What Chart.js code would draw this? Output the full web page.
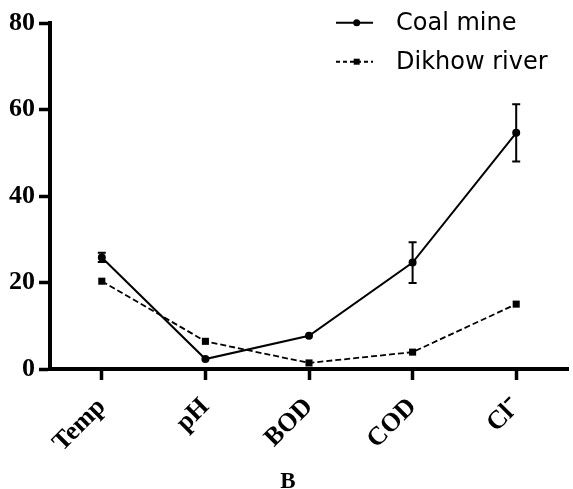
<!DOCTYPE html>
<html lang="en">

<head>
  <meta charset="UTF-8" />
  <title>Coal mine vs Dikhow river</title>
  <style>
    * {
      margin: 0;
      padding: 0;
    }

    body {
      background: #ffffff;
    }

    .chartBox {
      width: 573px;
      height: 489px;
    }
  </style>
</head>

<body>
  <div class="chartBox">
    <canvas id="myChart" width="573" height="489"></canvas>
  </div>
  <script src="https://cdn.jsdelivr.net/npm/chart.js@4.4.0/dist/chart.umd.min.js"></script>
  <script>
    const labels = ["Temp", "pH", "BOD", "COD", "Cl\u207B"];
    const coalMine = [25.8, 2.3, 7.7, 24.6, 54.6];
    const coalMineErr = [1.05, 0, 0, 4.7, 6.6];
    const dikhowRiver = [20.3, 6.4, 1.4, 3.9, 15.0];
    const yTicks = [0, 20, 40, 60, 80];

    const serif = "'Liberation Serif', 'Times New Roman', serif";

    // error bars for the coal mine series
    const errorBars = {
      id: "errorBars",
      afterDatasetsDraw(chart) {
        const ctx = chart.ctx;
        const x = chart.scales.x;
        const y = chart.scales.y;
        ctx.save();
        ctx.strokeStyle = "#000";
        ctx.lineWidth = 2;
        coalMineErr.forEach((e, i) => {
          if (!e) return;
          const px = x.getPixelForValue(i);
          const top = y.getPixelForValue(coalMine[i] + e);
          const bot = y.getPixelForValue(coalMine[i] - e);
          ctx.beginPath();
          ctx.moveTo(px, top);
          ctx.lineTo(px, bot);
          ctx.moveTo(px - 4, top);
          ctx.lineTo(px + 4, top);
          ctx.moveTo(px - 4, bot);
          ctx.lineTo(px + 4, bot);
          ctx.stroke();
        });
        ctx.restore();
      },
    };

    // legend with line + marker samples, stacked in the top right, and the "B" caption
    const sideLegend = {
      id: "sideLegend",
      afterDraw(chart) {
        const ctx = chart.ctx;
        const rows = [22.7, 61.7];
        ctx.save();
        chart.data.datasets.forEach((ds, i) => {
          const cy = rows[i];
          ctx.strokeStyle = "#000";
          ctx.lineWidth = 2;
          ctx.setLineDash(ds.borderDash ? [4, 3] : []);
          ctx.beginPath();
          ctx.moveTo(336, cy);
          ctx.lineTo(373, cy);
          ctx.stroke();
          ctx.setLineDash([]);
          ctx.fillStyle = "#000";
          if (ds.pointStyle === "rect") {
            ctx.fillRect(356.7 - 3, cy - 3, 6, 6);
          } else {
            ctx.beginPath();
            ctx.arc(356.7, cy, 3.5, 0, Math.PI * 2);
            ctx.fill();
          }
          ctx.font = "24px 'DejaVu Sans', Arial, sans-serif";
          ctx.textBaseline = "middle";
          ctx.textAlign = "left";
          ctx.fillText(ds.label, 396, cy + 1);
        });
        ctx.font = "bold 23px " + serif;
        ctx.textAlign = "center";
        ctx.textBaseline = "alphabetic";
        ctx.fillText("B", 288, 488);
        ctx.restore();
      },
    };

    const data = {
      labels: labels,
      datasets: [
        {
          label: "Coal mine",
          data: coalMine,
          borderColor: "#000",
          backgroundColor: "#000",
          borderWidth: 2,
          pointStyle: "circle",
          pointRadius: 4,
          pointBorderWidth: 0,
          tension: 0,
        },
        {
          label: "Dikhow river",
          data: dikhowRiver,
          borderColor: "#000",
          backgroundColor: "#000",
          borderWidth: 1.8,
          borderDash: [6, 3],
          pointStyle: "rect",
          pointRadius: 5,
          pointBorderWidth: 0,
          tension: 0,
        },
      ],
    };

    const options = {
      responsive: false,
      animation: false,
      layout: {
        padding: { top: 23, right: 2, left: 0, bottom: 0 },
      },
      scales: {
        x: {
          offset: true,
          border: { display: true, color: "#000", width: 4 },
          grid: {
            display: true,
            drawOnChartArea: false,
            tickLength: 11,
            tickWidth: 3.5,
            tickColor: "#000",
          },
          ticks: {
            autoSkip: false,
            minRotation: 45,
            maxRotation: 45,
            padding: 12,
            color: "#000",
            font: { family: serif, weight: "bold", size: 26 },
          },
          afterFit(scale) {
            scale.height = 120;
          },
        },
        y: {
          min: 0,
          max: 80,
          afterBuildTicks(scale) {
            scale.ticks = yTicks.map((v) => ({ value: v }));
          },
          border: { display: true, color: "#000", width: 4 },
          grid: {
            display: true,
            drawOnChartArea: false,
            tickLength: 11,
            tickWidth: 3.5,
            tickColor: "#000",
          },
          ticks: {
            padding: 4,
            color: "#000",
            font: { family: serif, weight: "bold", size: 26 },
          },
          afterFit(scale) {
            scale.width = 50;
          },
        },
      },
      plugins: {
        legend: { display: false },
        tooltip: { enabled: false },
      },
    };

    const config = {
      type: "line",
      data: data,
      options: options,
      plugins: [errorBars, sideLegend],
    };

    const ctx = document.getElementById("myChart").getContext("2d");
    const myChart = new Chart(ctx, config);
  </script>
</body>

</html>
